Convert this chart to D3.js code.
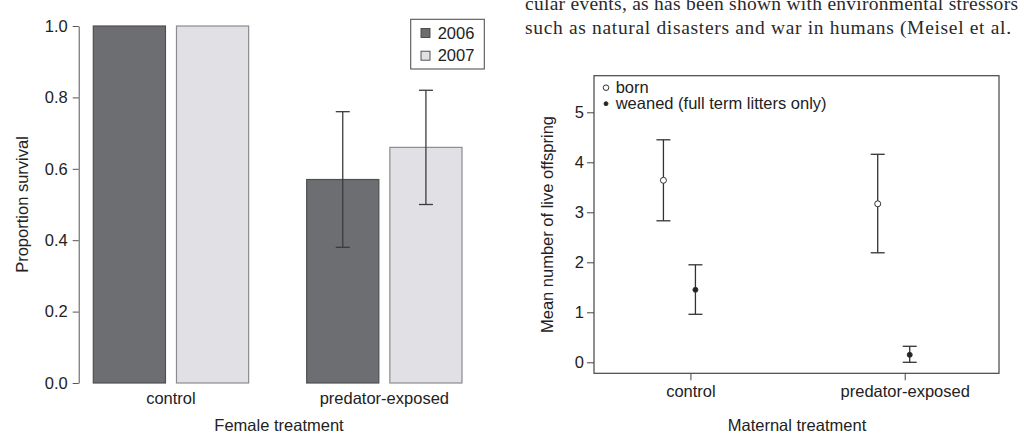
<!DOCTYPE html>
<html><head><meta charset="utf-8">
<script src="https://cdn.jsdelivr.net/npm/d3@7"></script>
<style>
html,body{margin:0;padding:0;background:#fff;}
svg{display:block;font-family:"Liberation Sans",Arial,sans-serif;}
</style></head>
<body><svg id="viz" width="1024" height="438"></svg>
<script>
// left panel: survival by year
const femaleTreatments = ["control","predator-exposed"];
const years = ["2006","2007"];
const survival2006 = [1.0, 0.57];
const survival2007 = [1.0, 0.66];
const errLow2006 = [null, 0.38], errHigh2006 = [null, 0.76];
const errLow2007 = [null, 0.50], errHigh2007 = [null, 0.82];
const survTicks = [0, 0.2, 0.4, 0.6, 0.8, 1.0];

// right panel: offspring
const maternalTreatments = ["control","predator-exposed"];
const bornMean = [3.64, 3.17], bornLow = [2.83, 2.19], bornHigh = [4.45, 4.16];
const weanedMean = [1.45, 0.15], weanedLow = [0.96, 0.0], weanedHigh = [1.95, 0.32];
const offTicks = [0,1,2,3,4,5];

const headerLines = ["cular events, as has been shown with environmental stressors",
                     "such as natural disasters and war in humans (Meisel et al."];

const svg = d3.select("#viz");
const ink = "#222", fs = 16.5;
const barFill = {"2006":"#6c6e71","2007":"#e1e1e5"};

// header text from the page
svg.append("g").selectAll("text").data(headerLines).join("text")
  .attr("x",525).attr("y",(d,i)=>10+i*24)
  .attr("textLength",(d,i)=>i?486:493).attr("lengthAdjust","spacing")
  .attr("font-family","'Liberation Serif','DejaVu Serif',serif").attr("font-size",19.5)
  .attr("fill","#2a2a2a").text(d=>d);

// ---------- left chart ----------
const L = svg.append("g");
const y1 = d3.scaleLinear().domain([0,1]).range([383,26]);
const xg = d3.scaleBand().domain(femaleTreatments).range([93.3,462]).paddingInner(0.272).paddingOuter(0);
const xy = d3.scaleBand().domain(years).range([0,xg.bandwidth()]).paddingInner(0.1325).paddingOuter(0);

const yAx = L.append("g").attr("transform","translate(78.7,0)")
  .call(d3.axisLeft(y1).tickValues(survTicks).tickFormat(d3.format(".1f")).tickSize(6).tickSizeOuter(0));
yAx.select(".domain").attr("stroke","#555");
yAx.selectAll(".tick line").attr("stroke","#555");
yAx.selectAll("text").attr("font-size",fs).attr("fill",ink).attr("font-family","'Liberation Sans',Arial,sans-serif").attr("x",-11);

const bars = [];
femaleTreatments.forEach((t,i)=>{
  bars.push({t, yr:"2006", v:survival2006[i], lo:errLow2006[i], hi:errHigh2006[i]});
  bars.push({t, yr:"2007", v:survival2007[i], lo:errLow2007[i], hi:errHigh2007[i]});
});
L.append("g").selectAll("rect").data(bars).join("rect")
  .attr("x",d=>xg(d.t)+xy(d.yr)).attr("width",xy.bandwidth())
  .attr("y",d=>y1(d.v)).attr("height",d=>y1(0)-y1(d.v))
  .attr("fill",d=>barFill[d.yr]).attr("stroke",d=>d.yr==="2006"?"#4e4f52":"#8c8c8f").attr("stroke-width",1.2);

const eb = L.append("g").attr("stroke","#3c3c3c").attr("stroke-width",1.3);
bars.filter(d=>d.lo!=null).forEach(d=>{
  const cx = xg(d.t)+xy(d.yr)+xy.bandwidth()/2;
  eb.append("line").attr("x1",cx).attr("x2",cx).attr("y1",y1(d.hi)).attr("y2",y1(d.lo));
  [d.hi,d.lo].forEach(v=>eb.append("line").attr("x1",cx-7).attr("x2",cx+7).attr("y1",y1(v)).attr("y2",y1(v)));
});

L.append("g").selectAll("text").data(femaleTreatments).join("text")
  .attr("x",d=>xg(d)+xg.bandwidth()/2).attr("y",403.5).attr("text-anchor","middle")
  .attr("font-size",fs).attr("fill",ink).text(d=>d);
L.append("text").attr("x",279).attr("y",430.5).attr("text-anchor","middle")
  .attr("font-size",fs).attr("fill",ink).text("Female treatment");
L.append("text").attr("transform","translate(28,204.5) rotate(-90)").attr("text-anchor","middle")
  .attr("font-size",fs).attr("fill",ink).text("Proportion survival");

// legend
const lg = L.append("g");
lg.append("rect").attr("x",410.7).attr("y",19.3).attr("width",73.6).attr("height",49.7)
  .attr("fill","#fff").attr("stroke","#555").attr("stroke-width",1.1);
years.forEach((yr,i)=>{
  const cy = 33 + i*22.7;
  lg.append("rect").attr("x",421).attr("y",cy-4.5).attr("width",9).attr("height",9)
    .attr("fill",barFill[yr]).attr("stroke","#444").attr("stroke-width",0.9);
  lg.append("text").attr("x",437.7).attr("y",cy+5.5).attr("font-size",fs).attr("fill",ink).text(yr);
});

// ---------- right chart ----------
const R = svg.append("g");
const x2 = d3.scaleLinear().domain([0.55,2.44]).range([594,999]);
const y2 = d3.scaleLinear().domain([0,5]).range([362.3,112.3]);
const frameTop = 75.7, frameBot = 373.3;

R.append("rect").attr("x",594).attr("y",frameTop).attr("width",405).attr("height",frameBot-frameTop)
  .attr("fill","none").attr("stroke","#444").attr("stroke-width",1.2);

const y2Ax = R.append("g").attr("transform","translate(594,0)")
  .call(d3.axisLeft(y2).tickValues(offTicks).tickFormat(d3.format("d")).tickSize(7).tickSizeOuter(0));
y2Ax.select(".domain").remove();
y2Ax.selectAll(".tick line").attr("stroke","#444");
y2Ax.selectAll("text").attr("font-size",fs).attr("fill",ink).attr("font-family","'Liberation Sans',Arial,sans-serif").attr("x",-10);

const x2Ax = R.append("g").attr("transform",`translate(0,${frameBot})`)
  .call(d3.axisBottom(x2).tickValues([1,2]).tickFormat(d=>maternalTreatments[d-1]).tickSize(7).tickSizeOuter(0));
x2Ax.select(".domain").remove();
x2Ax.selectAll(".tick line").attr("stroke","#444");
x2Ax.selectAll("text").attr("font-size",fs).attr("fill",ink).attr("font-family","'Liberation Sans',Arial,sans-serif").attr("y",12).attr("dy","0.71em");

R.append("text").attr("x",797).attr("y",430.7).attr("text-anchor","middle")
  .attr("font-size",fs).attr("fill",ink).text("Maternal treatment");
R.append("text").attr("transform","translate(553,224.5) rotate(-90)").attr("text-anchor","middle")
  .attr("font-size",fs).attr("fill",ink).text("Mean number of live offspring");

const series = [
  {name:"born", mean:bornMean, lo:bornLow, hi:bornHigh, dx:-27, open:true},
  {name:"weaned", mean:weanedMean, lo:weanedLow, hi:weanedHigh, dx:5, open:false}
];
const pg = R.append("g").attr("stroke","#333").attr("stroke-width",1.3);
series.forEach(s=>{
  s.mean.forEach((m,i)=>{
    const cx = x2(i+1)+s.dx;
    pg.append("line").attr("x1",cx).attr("x2",cx).attr("y1",y2(s.hi[i])).attr("y2",y2(s.lo[i]));
    [s.hi[i],s.lo[i]].forEach(v=>pg.append("line").attr("x1",cx-7).attr("x2",cx+7).attr("y1",y2(v)).attr("y2",y2(v)));
    pg.append("circle").attr("cx",cx).attr("cy",y2(m)).attr("r",s.open?3:2.5)
      .attr("fill",s.open?"#fff":"#222").attr("stroke-width",1);
  });
});

// legend right
const legItems = ["born","weaned (full term litters only)"];
legItems.forEach((t,i)=>{
  const cy = 87.7 + i*16;
  R.append("circle").attr("cx",606).attr("cy",cy).attr("r",i?2:2.8)
    .attr("fill",i?"#222":"#fff").attr("stroke","#333").attr("stroke-width",1);
  R.append("text").attr("x",615.7).attr("y",cy+5).attr("font-size",fs).attr("fill",ink).text(t);
});
</script></body></html>
